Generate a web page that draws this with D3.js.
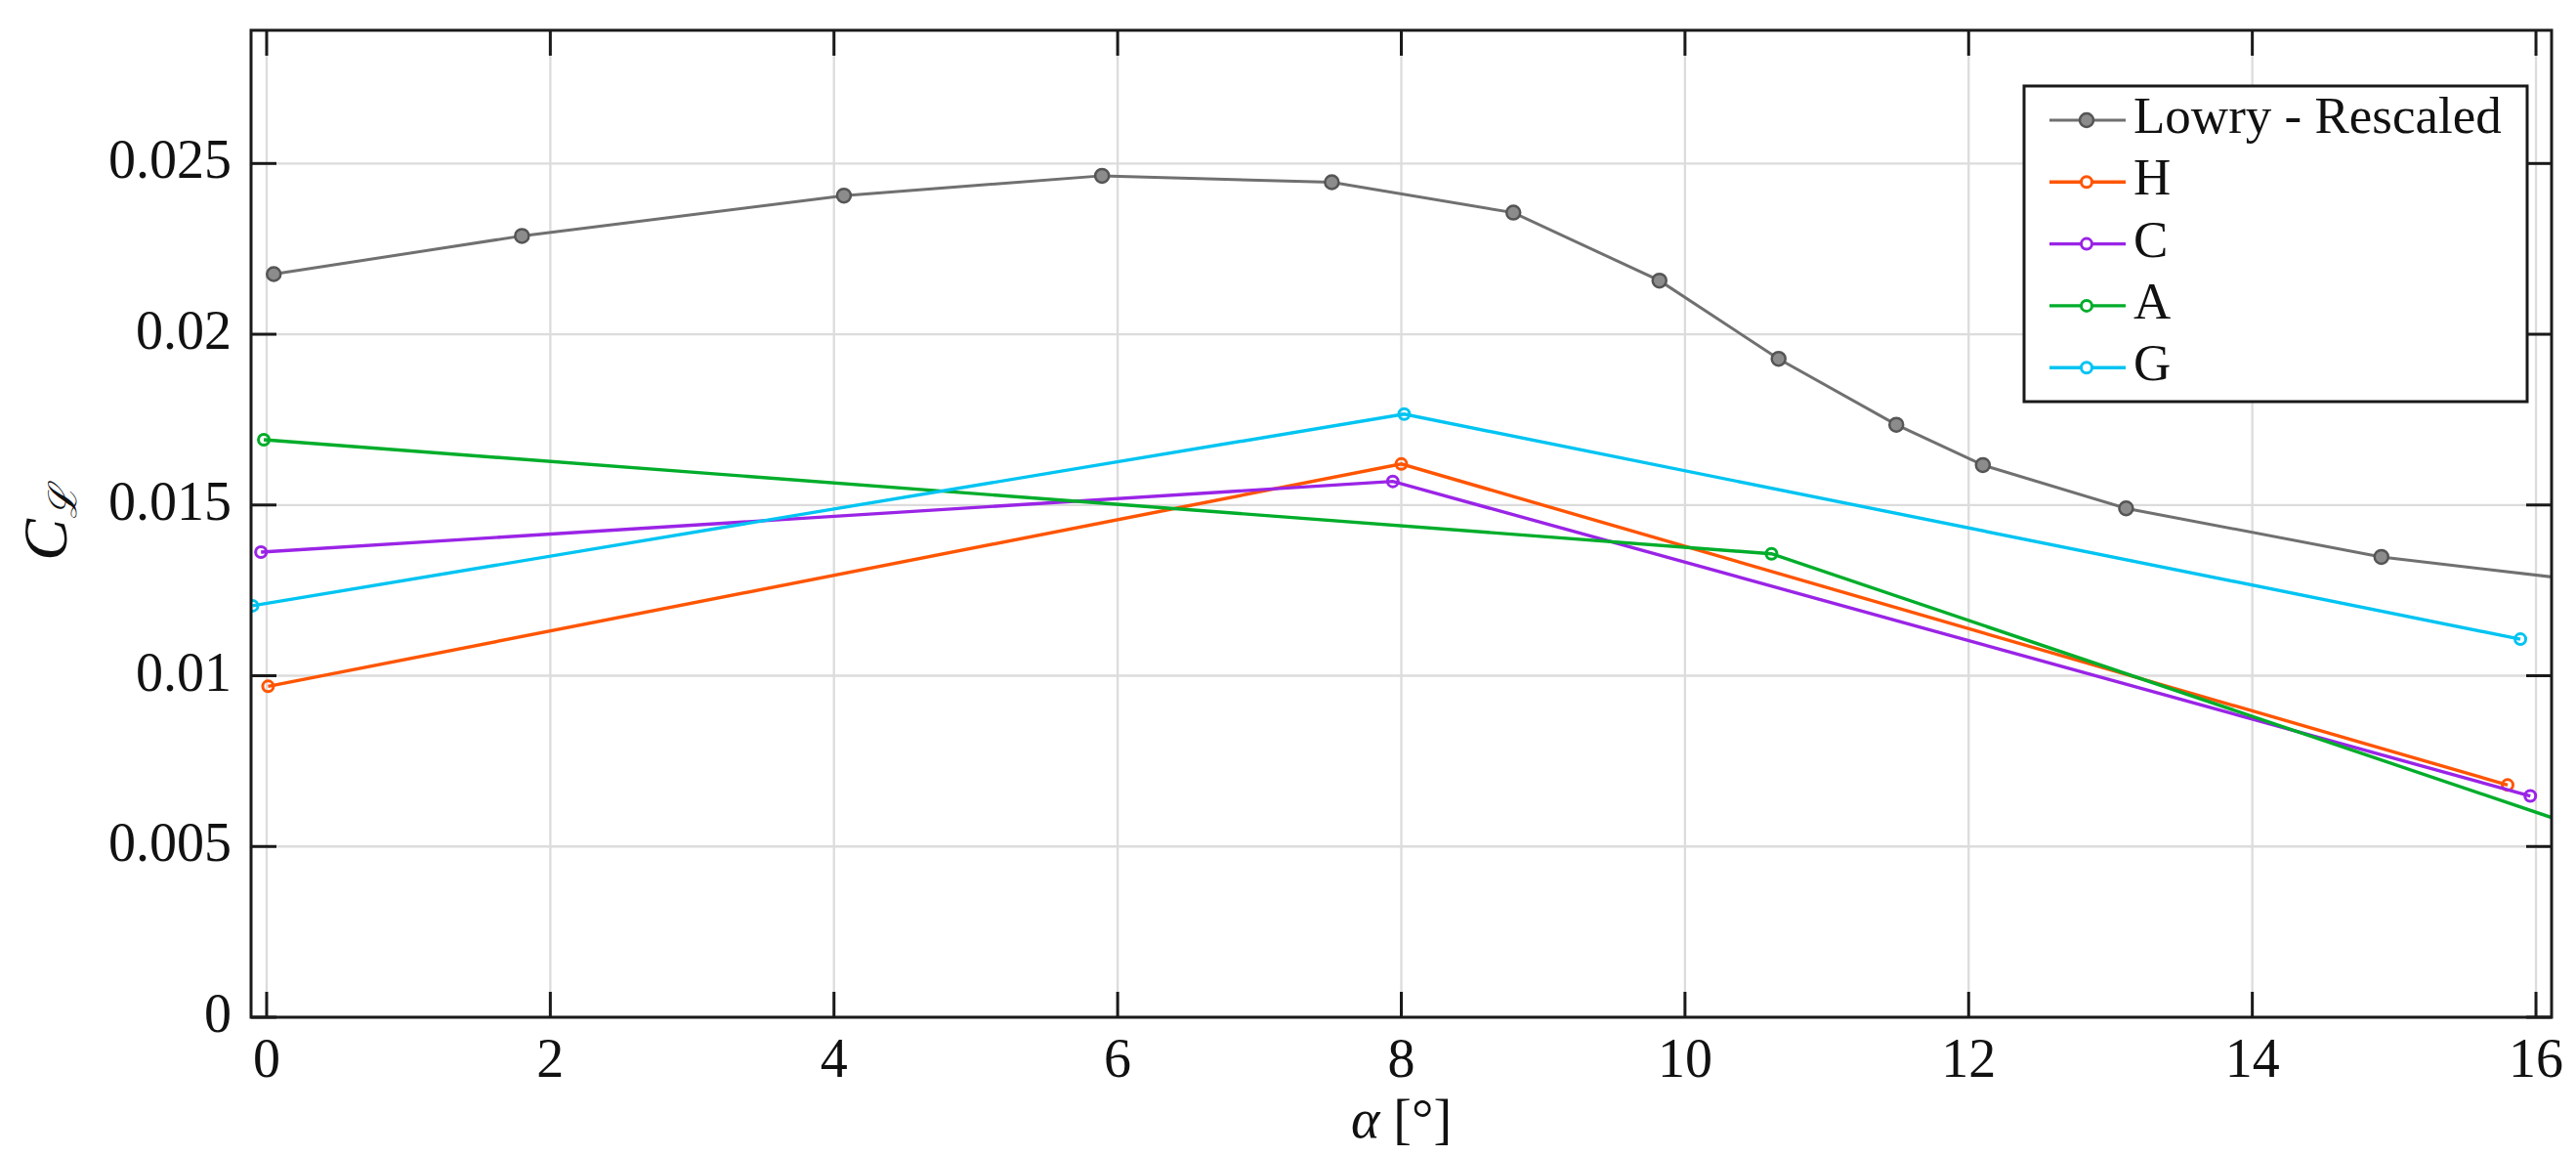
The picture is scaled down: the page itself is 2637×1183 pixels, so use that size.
<!DOCTYPE html>
<html>
<head>
<meta charset="utf-8">
<script src="https://cdn.jsdelivr.net/npm/d3@7"></script>
<style>
  body { margin: 0; background: #fff; }
  text { font-family: "Liberation Serif", "DejaVu Serif", serif; fill: #111; }
</style>
</head>
<body>
<svg id="chart" width="2637" height="1183"></svg>
<script>
// data (alpha in deg, C_L)
var lowryAlpha = [0.05, 1.80, 4.07, 5.89, 7.51, 8.79, 9.82, 10.66, 11.49, 12.10, 13.11, 14.91, 17.0];
var lowryCL    = [0.02176, 0.02288, 0.02406, 0.02464, 0.02445, 0.02356, 0.02157, 0.01928, 0.01735, 0.01617, 0.01490, 0.01348, 0.01246];

var hAlpha = [0.01, 8.00, 15.80];
var hCL    = [0.00969, 0.01620, 0.00680];
var cAlpha = [-0.04, 7.94, 15.96];
var cCL    = [0.01362, 0.01569, 0.00648];
var aAlpha = [-0.02, 10.61, 16.30];
var aCL    = [0.01691, 0.01357, 0.00558];
var gAlpha = [-0.10, 8.02, 15.89];
var gCL    = [0.01205, 0.01766, 0.01107];

var seriesNames  = ["Lowry - Rescaled", "H", "C", "A", "G"];
var seriesColors = ["#707070", "#ff5500", "#9a24e6", "#00ad2a", "#00c4f2"];

var xTicks = [0, 2, 4, 6, 8, 10, 12, 14, 16];
var yTicks = [0, 0.005, 0.01, 0.015, 0.02, 0.025];
var yTickLabels = ["0", "0.005", "0.01", "0.015", "0.02", "0.025"];

function makeChart() {
    var svg = d3.select("#chart"),
        width = +svg.attr("width"),
        height = +svg.attr("height");

    var margin = {top: 31, right: 25, bottom: 142, left: 257};
    var w = width - margin.left - margin.right,
        h = height - margin.top - margin.bottom;

    var x = d3.scaleLinear().domain([-0.11, 16.11]).range([0, w]);
    var y = d3.scaleLinear().domain([0, 0.0289]).range([h, 0]);

    var g = svg.append("g")
        .attr("transform", "translate(" + margin.left + "," + margin.top + ")");

    g.append("clipPath").attr("id", "clip")
        .append("rect").attr("width", w).attr("height", h);

    // grid
    g.append("g").selectAll("line").data(xTicks).enter().append("line")
        .attr("x1", function(d) { return x(d); })
        .attr("x2", function(d) { return x(d); })
        .attr("y1", 0).attr("y2", h)
        .attr("stroke", "#dcdcdc").attr("stroke-width", 2.3);
    g.append("g").selectAll("line").data(yTicks).enter().append("line")
        .attr("y1", function(d) { return y(d); })
        .attr("y2", function(d) { return y(d); })
        .attr("x1", 0).attr("x2", w)
        .attr("stroke", "#dcdcdc").attr("stroke-width", 2.3);

    // series
    var series = [
        {xs: lowryAlpha, ys: lowryCL},
        {xs: hAlpha, ys: hCL},
        {xs: cAlpha, ys: cCL},
        {xs: aAlpha, ys: aCL},
        {xs: gAlpha, ys: gCL}
    ];

    var line = d3.line()
        .x(function(d) { return x(d[0]); })
        .y(function(d) { return y(d[1]); });

    var plot = g.append("g").attr("clip-path", "url(#clip)");

    series.forEach(function(s, i) {
        var pts = d3.zip(s.xs, s.ys);
        plot.append("path")
            .datum(pts)
            .attr("d", line)
            .attr("fill", "none")
            .attr("stroke", seriesColors[i])
            .attr("stroke-width", i === 0 ? 3 : 3.4);
        plot.selectAll(".m" + i).data(pts).enter().append("circle")
            .attr("cx", function(d) { return x(d[0]); })
            .attr("cy", function(d) { return y(d[1]); })
            .attr("r", i === 0 ? 7 : 5.5)
            .attr("fill", i === 0 ? "#8c8c8c" : "none")
            .attr("stroke", i === 0 ? "#555" : seriesColors[i])
            .attr("stroke-width", i === 0 ? 2.5 : 3);
    });

    // axes box with inward ticks on all sides
    var tickLen = 26;
    var axisG = g.append("g").attr("stroke", "#1a1a1a").attr("stroke-width", 3);
    axisG.append("rect").attr("width", w).attr("height", h).attr("fill", "none");
    xTicks.forEach(function(d) {
        axisG.append("line").attr("x1", x(d)).attr("x2", x(d)).attr("y1", h).attr("y2", h - tickLen);
        axisG.append("line").attr("x1", x(d)).attr("x2", x(d)).attr("y1", 0).attr("y2", tickLen);
    });
    yTicks.forEach(function(d) {
        axisG.append("line").attr("y1", y(d)).attr("y2", y(d)).attr("x1", 0).attr("x2", tickLen);
        axisG.append("line").attr("y1", y(d)).attr("y2", y(d)).attr("x1", w).attr("x2", w - tickLen);
    });

    // tick labels
    g.append("g").selectAll("text").data(xTicks).enter().append("text")
        .attr("x", function(d) { return x(d); })
        .attr("y", h + 61)
        .attr("text-anchor", "middle")
        .attr("font-size", 56)
        .text(function(d) { return d; });
    g.append("g").selectAll("text").data(yTicks).enter().append("text")
        .attr("x", -20)
        .attr("y", function(d) { return y(d) + 15; })
        .attr("text-anchor", "end")
        .attr("font-size", 56)
        .text(function(d, i) { return yTickLabels[i]; });

    // axis labels
    var xl = svg.append("text")
        .attr("x", margin.left + w / 2)
        .attr("y", 1164)
        .attr("text-anchor", "middle")
        .attr("font-size", 56);
    xl.append("tspan").attr("font-style", "italic").text("α");
    xl.append("tspan").text(" [°]");

    var yl = svg.append("text")
        .attr("transform", "translate(68," + (margin.top + h / 2) + ") rotate(-90)")
        .attr("text-anchor", "middle")
        .attr("font-size", 64);
    yl.append("tspan").attr("font-style", "italic").text("C");
    yl.append("tspan").attr("font-style", "italic").attr("font-size", 40).attr("dy", 10).text("ℒ");

    // legend
    var lg = g.append("g").attr("transform", "translate(" + (w - 540) + "," + 57 + ")");
    lg.append("rect")
        .attr("width", 515).attr("height", 323)
        .attr("fill", "#fff").attr("stroke", "#1a1a1a").attr("stroke-width", 3);
    seriesNames.forEach(function(name, i) {
        var ry = 35 + i * 63.3;
        lg.append("line")
            .attr("x1", 26).attr("x2", 104).attr("y1", ry).attr("y2", ry)
            .attr("stroke", seriesColors[i]).attr("stroke-width", i === 0 ? 3 : 3.4);
        lg.append("circle")
            .attr("cx", 64).attr("cy", ry)
            .attr("r", i === 0 ? 7 : 5.5)
            .attr("fill", i === 0 ? "#8c8c8c" : "#fff")
            .attr("stroke", i === 0 ? "#555" : seriesColors[i])
            .attr("stroke-width", i === 0 ? 2.5 : 3);
        lg.append("text")
            .attr("x", 112).attr("y", ry + 13)
            .attr("font-size", 53)
            .text(name);
    });
}

makeChart();
</script>
</body>
</html>
